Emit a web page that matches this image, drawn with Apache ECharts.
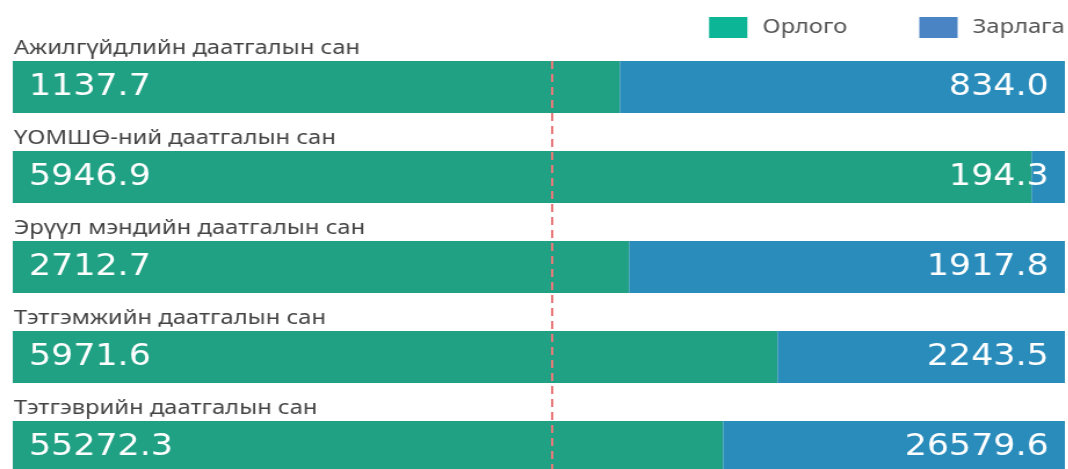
<!DOCTYPE html>
<html>
<head>
<meta charset="utf-8">
<script src="https://cdn.jsdelivr.net/npm/echarts@6/dist/echarts.min.js"></script>
<style>
  html, body { margin: 0; padding: 0; background: #fff; overflow: hidden; }
  /* the source picture is stretched sideways, so the chart is too */
  #main { width: 921px; height: 469px; transform: scaleX(1.16); transform-origin: 0 0; }
</style>
</head>
<body>
<div id="main"></div>
<script>
var funds = ['Ажилгүйдлийн даатгалын сан', 'ҮОМШӨ-ний даатгалын сан', 'Эрүүл мэндийн даатгалын сан', 'Тэтгэмжийн даатгалын сан', 'Тэтгэврийн даатгалын сан'];
var income = [1137.7, 5946.9, 2712.7, 5971.6, 55272.3];
var expense = [834.0, 194.3, 1917.8, 2243.5, 26579.6];
var refLine = 51.2;

// each bar is 100%: share of income vs expense
var incomeShare = income.map(function (v, i) { return v / (v + expense[i]) * 100; });
var expenseShare = expense.map(function (v, i) { return v / (income[i] + v) * 100; });

var chart = echarts.init(document.getElementById('main'));

var valueLabel = {
    show: true,
    color: '#fff',
    fontFamily: 'DejaVu Sans',
    fontSize: 30,
    distance: 14
};

chart.setOption({
    animation: false,
    legend: {
        right: -2,
        top: 12,
        icon: 'rect',
        itemWidth: 33,
        itemHeight: 21,
        itemGap: 62,
        textStyle: { fontFamily: 'Noto Sans', fontSize: 20.5, color: '#555', padding: [0, 0, 0, 8] },
        data: [
            { name: 'Орлого', itemStyle: { color: '#0bb596' } },
            { name: 'Зарлага', itemStyle: { color: '#4a84c4' } }
        ]
    },
    // last bar runs off the bottom edge, as in the source
    grid: { left: 11, right: 3, top: 42, height: 450, outerBoundsMode: 'none' },
    xAxis: {
        type: 'value', min: 0, max: 100, show: false
    },
    yAxis: [
        {
            type: 'category',
            inverse: true,
            data: funds,
            axisLine: { show: false },
            axisTick: { show: false },
            axisLabel: {
                inside: true,
                interval: 0,
                margin: 1,
                align: 'left',
                verticalAlign: 'bottom',
                fontFamily: 'Noto Sans',
                fontSize: 20.5,
                lineHeight: 20,
                color: '#444',
                padding: [0, 0, 29, 0]
            },
            z: 5
        },
        // same band layout as the categories, used only for the dashed reference line
        { type: 'value', inverse: true, min: -0.5, max: 4.5, show: false }
    ],
    series: [
        {
            name: 'Орлого',
            type: 'bar',
            stack: 'total',
            barWidth: 52,
            itemStyle: { color: '#21a184' },
            label: Object.assign({}, valueLabel, {
                position: 'insideLeft',
                formatter: function (p) { return income[p.dataIndex].toFixed(1); }
            }),
            data: incomeShare
        },
        {
            name: 'Зарлага',
            type: 'bar',
            stack: 'total',
            barWidth: 52,
            itemStyle: { color: '#298cbb' },
            label: Object.assign({}, valueLabel, {
                position: 'insideRight',
                formatter: function (p) { return expense[p.dataIndex].toFixed(1); }
            }),
            data: expenseShare
        },
        {
            type: 'line',
            yAxisIndex: 1,
            data: [],
            markLine: {
                silent: true,
                symbol: 'none',
                label: { show: false },
                lineStyle: { color: '#e8797b', type: [8, 5], width: 2 },
                data: [[{ coord: [refLine, -0.29] }, { coord: [refLine, 4.5] }]]
            }
        }
    ]
});
</script>
</body>
</html>
